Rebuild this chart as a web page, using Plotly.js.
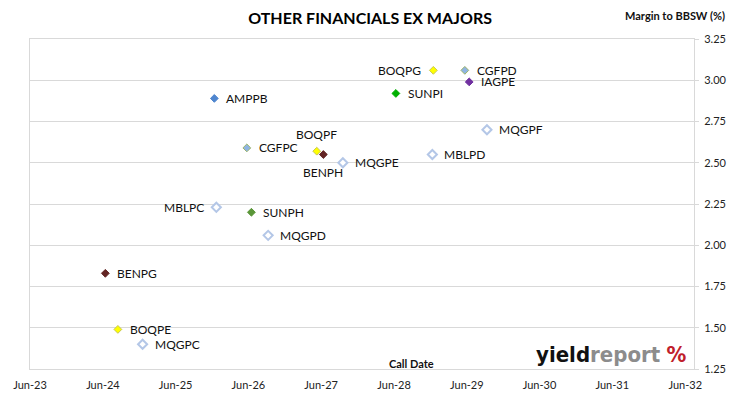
<!DOCTYPE html>
<html>
<head>
<meta charset="utf-8">
<script src="https://cdn.plot.ly/plotly-3.0.1.min.js"></script>
<style>
  html, body { margin: 0; padding: 0; background: #fff; }
  #chart { width: 730px; height: 399px; }
</style>
</head>
<body>
<div id="chart"></div>
<script>
// ---- data ----
const securities = ["AMPPB","BOQPG","CGFPD","IAGPE","SUNPI","MQGPF","CGFPC","BOQPF","BENPH","MQGPE","MBLPD","MBLPC","SUNPH","MQGPD","BENPG","BOQPE","MQGPC"];
const callDates  = ["2025-12-12","2028-12-15","2029-05-22","2029-06-13","2028-06-10","2029-09-10","2026-05-24","2027-05-10","2027-06-12","2027-09-18","2028-12-10","2025-12-22","2026-06-16","2026-09-08","2024-06-13","2024-08-15","2024-12-17"];
const margins    = [2.89, 3.06, 3.06, 2.99, 2.92, 2.70, 2.59, 2.57, 2.55, 2.50, 2.55, 2.23, 2.20, 2.06, 1.83, 1.49, 1.40];
const xTickStart = "2023-06-01";
const yTicks     = [1.25, 1.50, 1.75, 2.00, 2.25, 2.50, 2.75, 3.00, 3.25];

// ---- styles ----
const styleByName = {
  AMPPB: {fill:"#4F86CF", line:"#4F86CF", open:false},
  BOQPG: {fill:"#FFFF00", line:"#C8C850", open:false},
  BOQPF: {fill:"#FFFF00", line:"#C8C850", open:false},
  BOQPE: {fill:"#FFFF00", line:"#C8C850", open:false},
  CGFPD: {fill:"#8EB4E3", line:"#9BB36A", open:false},
  CGFPC: {fill:"#8EB4E3", line:"#9BB36A", open:false},
  IAGPE: {fill:"#7030A0", line:"#7030A0", open:false},
  SUNPI: {fill:"#00B000", line:"#00B000", open:false},
  SUNPH: {fill:"#5A9638", line:"#5A9638", open:false},
  BENPH: {fill:"#632523", line:"#632523", open:false},
  BENPG: {fill:"#632523", line:"#632523", open:false},
  MQGPF: {fill:"#FFFFFF", line:"#B4C7E7", open:true},
  MQGPE: {fill:"#FFFFFF", line:"#B4C7E7", open:true},
  MQGPD: {fill:"#FFFFFF", line:"#B4C7E7", open:true},
  MQGPC: {fill:"#FFFFFF", line:"#B4C7E7", open:true},
  MBLPD: {fill:"#FFFFFF", line:"#B4C7E7", open:true},
  MBLPC: {fill:"#FFFFFF", line:"#B4C7E7", open:true}
};
const labelSide = { BOQPG:"left", MBLPC:"left", BOQPF:"above", BENPH:"below" };

const FONT = "Lato, 'Open Sans', sans-serif";

const trace = {
  type: "scatter",
  mode: "markers",
  x: callDates,
  y: margins,
  text: securities,
  hoverinfo: "text",
  marker: {
    symbol: "diamond",
    opacity: 1,
    size: securities.map(n => styleByName[n].open ? 7 : 6),
    color: securities.map(n => styleByName[n].fill),
    line: {
      color: securities.map(n => styleByName[n].line),
      width: securities.map(n => styleByName[n].open ? 2 : 1)
    }
  },
  showlegend: false
};

const annotations = securities.map((n, i) => {
  const side = labelSide[n] || "right";
  const a = {
    x: callDates[i], y: margins[i], xref: "x", yref: "y",
    text: n, showarrow: false,
    font: {family: FONT, size: 12, color: "#111"}
  };
  if (side === "right") { a.xanchor = "left"; a.xshift = 10; }
  else if (side === "left") { a.xanchor = "right"; a.xshift = -10; }
  else if (side === "above") { a.yanchor = "bottom"; a.yshift = 7; }
  else if (side === "below") { a.yanchor = "top"; a.yshift = -8; }
  return a;
});

annotations.push(
  {xref:"paper", yref:"paper", x:0.574, y:-0.008, xanchor:"center", yanchor:"bottom",
   text:"<b>Call Date</b>", showarrow:false, font:{family:FONT, size:11, color:"#111"}},
  {xref:"paper", yref:"paper", x:1.049, y:1.045, xanchor:"right", yanchor:"bottom",
   text:"<b>Margin to BBSW (%)</b>", showarrow:false, font:{family:FONT, size:11, color:"#111"}},
  {xref:"paper", yref:"paper", x:0.993, y:0.0, xanchor:"right", yanchor:"bottom",
   text:"<b>yield</b><b><span style='color:#8C8C8C'>report</span></b> <b><span style='color:#C0202A'>%</span></b>",
   showarrow:false, font:{family:"'DejaVu Sans Condensed', 'DejaVu Sans', sans-serif", size:22, color:"#111"}}
);

const layout = {
  width: 730, height: 399,
  margin: {l: 30, r: 36, t: 39, b: 30},
  paper_bgcolor: "#fff", plot_bgcolor: "#fff",
  title: {text: "<b>OTHER FINANCIALS EX MAJORS</b>", x: 0.507, xanchor: "center", y: 0.955, yanchor: "middle",
          font: {family: FONT, size: 16, color: "#000"}},
  xaxis: {
    type: "date",
    range: ["2023-06-01", "2032-07-15"],
    tick0: xTickStart, dtick: "M12", tickformat: "%b-%y",
    showgrid: false, zeroline: false,
    showline: true, linecolor: "#D9D9D9", linewidth: 1, mirror: true,
    ticks: "", ticklabelstandoff: 6, tickfont: {family: FONT, size: 11, color: "#222"},
    fixedrange: true
  },
  yaxis: {
    side: "right",
    range: [1.25, 3.25],
    tickvals: yTicks, tickformat: ".2f",
    showgrid: true, gridcolor: "#D9D9D9", gridwidth: 1, zeroline: false,
    showline: true, linecolor: "#D9D9D9", linewidth: 1, mirror: true,
    ticks: "outside", ticklen: 4, tickcolor: "#D9D9D9", ticklabelstandoff: 3,
    tickfont: {family: FONT, size: 11, color: "#222"},
    fixedrange: true
  },
  annotations: annotations
};

Plotly.newPlot("chart", [trace], layout, {displayModeBar: false, staticPlot: true});
</script>
</body>
</html>
